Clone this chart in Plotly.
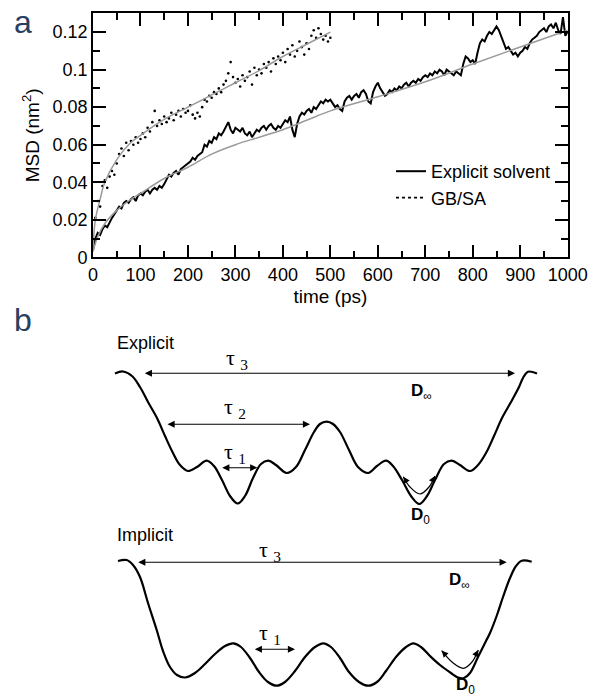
import plotly.graph_objects as go

W, H = 593, 698
SANS = "Liberation Sans, Arial, sans-serif"
SERIF = "Liberation Serif, Times New Roman, serif"

# ---------------- Panel a : MSD data ----------------
t_explicit = list(range(0, 1001, 5))
msd_explicit = [
    0.004, 0.010, 0.013, 0.012, 0.015, 0.017, 0.016, 0.019, 0.021, 0.023,
    0.025, 0.027, 0.026, 0.029, 0.030, 0.029, 0.031, 0.032, 0.030, 0.033,
    0.034, 0.033, 0.035, 0.036, 0.034, 0.036, 0.037, 0.036, 0.038, 0.037,
    0.039, 0.042, 0.044, 0.043, 0.045, 0.046, 0.044, 0.047, 0.048, 0.049,
    0.050, 0.051, 0.053, 0.052, 0.054, 0.055, 0.056, 0.060, 0.059, 0.062,
    0.061, 0.064, 0.063, 0.066, 0.065, 0.067, 0.070, 0.072, 0.068, 0.066,
    0.069, 0.068, 0.067, 0.069, 0.066, 0.065, 0.067, 0.064, 0.066, 0.068,
    0.067, 0.069, 0.070, 0.068, 0.070, 0.071, 0.069, 0.068, 0.070, 0.069,
    0.071, 0.073, 0.072, 0.075, 0.068, 0.064, 0.071, 0.075, 0.077, 0.076,
    0.078, 0.079, 0.077, 0.080, 0.079, 0.081, 0.083, 0.082, 0.084, 0.083,
    0.084, 0.082, 0.080, 0.081, 0.079, 0.078, 0.083, 0.085, 0.086, 0.084,
    0.086, 0.087, 0.085, 0.088, 0.089, 0.087, 0.083, 0.082, 0.088, 0.091,
    0.093, 0.090, 0.088, 0.086, 0.087, 0.089, 0.088, 0.090, 0.089, 0.091,
    0.090, 0.092, 0.093, 0.091, 0.093, 0.094, 0.093, 0.095, 0.094, 0.096,
    0.097, 0.096, 0.098, 0.097, 0.099, 0.098, 0.100, 0.099, 0.097, 0.100,
    0.099, 0.098, 0.097, 0.099, 0.098, 0.097, 0.103, 0.107, 0.106, 0.104,
    0.105, 0.103, 0.109, 0.114, 0.116, 0.115, 0.118, 0.120, 0.119, 0.121,
    0.123, 0.121, 0.118, 0.115, 0.111, 0.112, 0.110, 0.108, 0.109, 0.107,
    0.109, 0.110, 0.112, 0.111, 0.114, 0.116, 0.117, 0.118, 0.120, 0.121,
    0.122, 0.120, 0.123, 0.124, 0.122, 0.125, 0.121, 0.119, 0.128, 0.118,
    0.120,
]

t_gbsa = list(range(0, 501, 5))
msd_gbsa = [
    0.006, 0.021, 0.030, 0.027, 0.038, 0.041, 0.037, 0.043, 0.046, 0.044,
    0.050, 0.055, 0.058, 0.054, 0.061, 0.057, 0.062, 0.060, 0.064, 0.061,
    0.063, 0.066, 0.064, 0.069, 0.067, 0.072, 0.078, 0.070, 0.073, 0.071,
    0.075, 0.072, 0.074, 0.077, 0.073, 0.076, 0.078, 0.075, 0.079, 0.077,
    0.078, 0.081, 0.076, 0.074, 0.077, 0.075, 0.080, 0.084, 0.083, 0.086,
    0.085, 0.088, 0.087, 0.090, 0.088, 0.092, 0.094, 0.098, 0.104, 0.096,
    0.093, 0.095, 0.091, 0.097, 0.094, 0.096, 0.099, 0.092, 0.101, 0.097,
    0.100, 0.098, 0.103, 0.101, 0.104, 0.099, 0.106, 0.103, 0.107, 0.105,
    0.109, 0.104, 0.111, 0.108, 0.113, 0.107, 0.110, 0.115, 0.112, 0.108,
    0.114, 0.111, 0.118, 0.121, 0.117, 0.122, 0.119, 0.116, 0.118, 0.115,
    0.117,
]

t_fit_explicit = [0, 10, 25, 50, 75, 100, 150, 200, 250, 300, 350, 400, 450,
                  500, 600, 700, 800, 900, 1000]
msd_fit_explicit = [0.003, 0.011, 0.018, 0.025, 0.030, 0.034, 0.042, 0.048,
                    0.055, 0.060, 0.064, 0.068, 0.073, 0.078, 0.0855, 0.0935,
                    0.103, 0.112, 0.121]

t_fit_gbsa = [0, 5, 15, 25, 50, 75, 100, 150, 200, 250, 300, 350, 400, 450, 500]
msd_fit_gbsa = [0.005, 0.020, 0.031, 0.040, 0.052, 0.060, 0.065, 0.0735,
                0.080, 0.0865, 0.093, 0.0995, 0.107, 0.1135, 0.120]

series_names = ["Explicit solvent", "GB/SA"]

# ---------------- Panel b : schematic energy profiles ----------------
# (reaction coordinate, energy) control points of the drawn profiles
explicit_rc = [115, 123, 132, 140, 148, 157, 165, 173, 180, 188, 197, 206.7,
               214, 222, 230, 237.7, 245, 253, 261, 268.3, 276, 286.7, 296,
               305, 314, 320, 326.7, 333, 340, 349, 358, 368.3, 377, 386, 393,
               402, 411, 419.3, 427, 435, 444, 451.7, 460, 470, 478, 486, 494,
               502, 511, 519, 523, 528, 537]
explicit_e = [373.5, 371.5, 376, 387, 402, 418, 436, 453, 465, 471, 467, 460.7,
              466, 480, 496, 503.5, 496, 478, 464, 460.7, 465, 473, 467,
              450, 432, 424, 421.7, 424, 432, 450, 467, 473, 466, 460.7, 466,
              480, 496, 504, 496, 480, 464, 460.7, 465, 471, 465, 453, 436,
              418, 402, 387, 378, 371.7, 373.5]

implicit_rc = [118, 126.7, 133, 140, 148, 156.7, 163, 170, 177, 185, 195, 205,
               215, 225, 233.3, 241, 250, 259, 268, 276.7, 285, 295, 305, 315,
               323.3, 331, 340, 349, 359, 368.3, 377, 386, 396, 406, 413.3,
               421, 430, 440, 451, 458, 464, 470, 478, 486, 490, 497, 503, 510,
               516, 521.7, 531.7]
implicit_e = [561, 560, 565, 577, 603, 630, 651, 667, 675, 677.5, 673, 664,
              654, 646, 643.3, 647, 658, 672, 682, 685.7, 682, 671, 657, 647,
              643.3, 647, 658, 672, 682, 685.7, 682, 671, 657, 647, 643.3,
              647, 656, 665, 673, 677.5, 678, 673, 657, 641, 633, 615, 597,
              578, 566, 560.7, 561.7]

# curved double arrows (local diffusion D0)
explicit_d0_rc = [403.3, 410, 420, 429, 435]
explicit_d0_e = [476.7, 487, 494, 487, 476]
implicit_d0_rc = [441.7, 452, 463.3, 472, 478.3]
implicit_d0_e = [650.7, 662, 668.3, 662, 650]

# tau arrows: (left, right, level)
tau_arrows = [
    (143.3, 515, 373.3),   # explicit tau3
    (166, 310, 424.3),     # explicit tau2
    (220.7, 257.3, 467.7), # explicit tau1
    (136.7, 506.7, 562.3), # implicit tau3
    (253.3, 295, 649.3),   # implicit tau1
]
tau_labels = [
    ("τ <sub>3</sub>", 237, 359),
    ("τ <sub>2</sub>", 235, 408),
    ("τ <sub>1</sub>", 235, 453),
    ("τ <sub>3</sub>", 270, 551),
    ("τ <sub>1</sub>", 270, 634),
]
d_labels = [
    ("<b>D</b><sub>∞</sub>", 421, 392),
    ("<b>D</b><sub>0</sub>", 420, 516),
    ("<b>D</b><sub>∞</sub>", 459, 581),
    ("<b>D</b><sub>0</sub>", 465, 686),
]

fig = go.Figure()

# --- panel a traces ---
fig.add_trace(go.Scatter(x=t_explicit, y=msd_explicit, mode="lines",
                         name=series_names[0], legendgroup="g1",
                         line=dict(color="black", width=2),
                         xaxis="x", yaxis="y"))
fig.add_trace(go.Scatter(x=t_gbsa, y=msd_gbsa, mode="markers",
                         name=series_names[1], legendgroup="g2",
                         showlegend=False,
                         marker=dict(color="black", size=2.6),
                         xaxis="x", yaxis="y"))
# legend sample for the dotted GB/SA series
fig.add_trace(go.Scatter(x=[None], y=[None], mode="lines",
                         name=series_names[1], legendgroup="g2",
                         line=dict(color="black", width=1.6, dash="dot"),
                         xaxis="x", yaxis="y"))
fig.add_trace(go.Scatter(x=t_fit_explicit, y=msd_fit_explicit, mode="lines",
                         line=dict(color="#9a9a9a", width=1.5, shape="spline"),
                         showlegend=False, xaxis="x", yaxis="y"))
fig.add_trace(go.Scatter(x=t_fit_gbsa, y=msd_fit_gbsa, mode="lines",
                         line=dict(color="#9a9a9a", width=1.5, shape="spline"),
                         showlegend=False, xaxis="x", yaxis="y"))

# --- panel b traces ---
for rc, e in [(explicit_rc, explicit_e), (implicit_rc, implicit_e)]:
    fig.add_trace(go.Scatter(x=rc, y=e, mode="lines",
                             line=dict(color="black", width=2.2, shape="spline",
                                       smoothing=1.0),
                             showlegend=False, xaxis="x2", yaxis="y2"))
for rc, e in [(explicit_d0_rc, explicit_d0_e), (implicit_d0_rc, implicit_d0_e)]:
    fig.add_trace(go.Scatter(x=rc, y=e, mode="lines",
                             line=dict(color="black", width=1.2, shape="spline"),
                             showlegend=False, xaxis="x2", yaxis="y2"))

annotations = []
# tau arrows (double headed)
for x0, x1, lvl in tau_arrows:
    annotations.append(dict(x=x1, y=lvl, ax=x0, ay=lvl, xref="x2", yref="y2",
                            axref="x2", ayref="y2", text="", showarrow=True,
                            arrowside="end+start", arrowhead=2, startarrowhead=2,
                            arrowsize=1.3, startarrowsize=1.3, arrowwidth=1.1,
                            arrowcolor="black", standoff=0, startstandoff=0))
# heads of curved D0 arrows
for rc, e in [(explicit_d0_rc, explicit_d0_e), (implicit_d0_rc, implicit_d0_e)]:
    for tip, tail in [(0, 1), (-1, -2)]:
        tx, ty = rc[tip], e[tip]
        bx = tx + (rc[tail] - tx) * 0.35
        by = ty + (e[tail] - ty) * 0.35
        annotations.append(dict(x=tx, y=ty, ax=bx, ay=by, xref="x2", yref="y2",
                                axref="x2", ayref="y2", text="", showarrow=True,
                                arrowhead=2, arrowsize=1.2, arrowwidth=1.1,
                                arrowcolor="black", standoff=0))
for txt, x, y in tau_labels:
    annotations.append(dict(x=x, y=y, xref="x2", yref="y2", text=txt,
                            showarrow=False, xanchor="center", yanchor="middle",
                            font=dict(family=SERIF, size=22, color="black")))
for txt, x, y in d_labels:
    annotations.append(dict(x=x, y=y, xref="x2", yref="y2", text=txt,
                            showarrow=False, xanchor="center", yanchor="middle",
                            font=dict(family=SANS, size=17, color="black")))
annotations.append(dict(x=115, y=343, xref="x2", yref="y2", text="Explicit",
                        showarrow=False, xanchor="left", yanchor="middle",
                        font=dict(family=SANS, size=18, color="black")))
annotations.append(dict(x=115, y=535, xref="x2", yref="y2", text="Implicit",
                        showarrow=False, xanchor="left", yanchor="middle",
                        font=dict(family=SANS, size=18, color="black")))
# panel letters
annotations.append(dict(x=12 / W, y=1 - 22 / H, xref="paper", yref="paper",
                        text="a", showarrow=False, xanchor="left",
                        yanchor="middle", font=dict(family=SANS, size=32)))
annotations.append(dict(x=12 / W, y=1 - 320 / H, xref="paper", yref="paper",
                        text="b", showarrow=False, xanchor="left",
                        yanchor="middle", font=dict(family=SANS, size=32)))

axis_common = dict(showline=True, linecolor="black", linewidth=1.6,
                   mirror="ticks", ticks="inside", ticklen=13, tickwidth=1.5,
                   tickcolor="black", showgrid=False, zeroline=False,
                   automargin=False,
                   tickfont=dict(family=SANS, size=18, color="black"))

fig.update_layout(
    width=W, height=H,
    margin=dict(l=0, r=0, t=0, b=0, autoexpand=False),
    paper_bgcolor="white", plot_bgcolor="white",
    showlegend=True,
    legend=dict(x=391 / W, y=1 - 153 / H, xanchor="left", yanchor="top",
                font=dict(family=SANS, size=18, color="black"),
                bgcolor="rgba(0,0,0,0)", itemwidth=30, tracegroupgap=0,
                traceorder="grouped"),
    xaxis=dict(domain=[93 / W, 567.7 / W], range=[0, 1000], dtick=100,
               tick0=0, anchor="y",
               minor=dict(ticks="inside", ticklen=7, tickwidth=1.5,
                          tickcolor="black", dtick=50, showgrid=False),
               title=dict(text="time (ps)", standoff=6,
                          font=dict(family=SANS, size=19, color="black")),
               **axis_common),
    yaxis=dict(domain=[1 - 257.3 / H, 1 - 13.3 / H], range=[0, 0.13],
               dtick=0.02, tick0=0, anchor="x",
               minor=dict(ticks="inside", ticklen=7, tickwidth=1.5,
                          tickcolor="black", dtick=0.01, showgrid=False),
               title=dict(text="MSD (nm<sup>2</sup>)", standoff=8,
                          font=dict(family=SANS, size=19, color="black")),
               **axis_common),
    xaxis2=dict(domain=[0, 1], range=[0, W], visible=False, anchor="y2",
                automargin=False),
    yaxis2=dict(domain=[0, 398 / H], range=[H, 300], visible=False,
                anchor="x2", automargin=False),
    annotations=annotations,
)

fig.write_html(
    "out.html",
    config={"displayModeBar": False},
    post_script=("document.body.style.margin='0';"
                 "document.body.style.padding='0';"
                 "document.body.style.overflow='hidden';"),
)
